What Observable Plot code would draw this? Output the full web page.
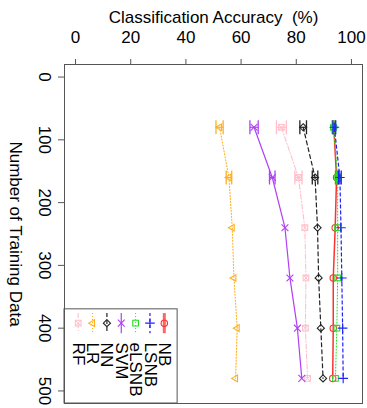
<!DOCTYPE html>
<html><head><meta charset="utf-8">
<script src="https://cdn.jsdelivr.net/npm/d3@7"></script>
<script src="https://cdn.jsdelivr.net/npm/@observablehq/plot@0.6"></script>
<style>body{margin:0;background:#fff}</style>
</head><body><div id="chart"></div>
<script>
// ---- data ----
const trainSizes = [80, 160, 240, 320, 400, 480];
const accNB    = [93.6, 94.6, 94.1, 93.4, 93.4, 93.2];
const accLSNB  = [93.8, 95.8, 96.2, 96.5, 96.8, 97.0];
const accELSNB = [93.5, 95.0, 95.0, 95.0, 94.7, 94.2];
const accSVM   = [64.7, 71.3, 75.9, 77.7, 80.4, 82.0];
const accNN    = [82.5, 86.8, 87.7, 88.1, 88.9, 89.7];
const accLR    = [52.2, 55.6, 56.8, 57.4, 58.6, 58.0];
const accRF    = [74.6, 80.8, 83.1, 83.5, 83.3, 84.1];
const errNB    = [0.4, 0.4, 0, 0, 0, 0];
const errLSNB  = [0.5, 0.5, 0, 0, 0, 0];
const errELSNB = [0.5, 0.5, 0, 0, 0, 0];
const errSVM   = [1.5, 1.0, 0, 0, 0, 0];
const errNN    = [1.2, 1.0, 0, 0, 0, 0];
const errLR    = [1.3, 1.0, 0, 0, 0, 0];
const errRF    = [1.8, 1.3, 0, 0, 0, 0];
const xTicks = [0, 20, 40, 60, 80, 100];
const yTicks = [0, 100, 200, 300, 400, 500];
const legendNames = ["RF", "LR", "NN", "SVM", "eLSNB", "LSNB", "NB"];
const xTitle = "Classification Accuracy\u00a0 (%)";
const yTitle = "Number of Training Data";

const seriesData = {
  RF: [accRF, errRF], LR: [accLR, errLR], NN: [accNN, errNN], SVM: [accSVM, errSVM],
  NB: [accNB, errNB], eLSNB: [accELSNB, errELSNB], LSNB: [accLSNB, errLSNB]
};
const drawOrder = ["RF", "LR", "NN", "SVM", "NB", "eLSNB", "LSNB"];

// ---- styles ----
const style = {
  NB:    {color: "#ff3030", symbol: "circle",  dash: null,      width: 1.5, legendWidth: 3, legendOpacity: 0.75},
  LSNB:  {color: "#2020ff", symbol: "plus",    dash: "3,3",     width: 1.2},
  eLSNB: {color: "#20e020", symbol: "square",  dash: "1,2",     width: 1},
  SVM:   {color: "#b040f5", symbol: "times",   dash: null,      width: 1.2},
  NN:    {color: "#222222", symbol: "diamond2",dash: "4,3",     width: 1.2},
  LR:    {color: "#ffb020", symbol: "triangle2", rotate: -90, dash: "1,2", width: 1.1},
  RF:    {color: "#ffc0cb", symbol: "square",  extra: "times",  dash: "5,2,1,2", width: 1.1}
};
const capSymbol = {draw(ctx, size) { const h = Math.sqrt(size / Math.PI); ctx.moveTo(0, -h); ctx.lineTo(0, h); }};
const FS = 17;
const R = 3.2;

const marks = [];
// legend box
marks.push(Plot.rect([0], {x1: () => -4, x2: () => 37, y1: () => 370, y2: () => 520, fill: "white", stroke: "#555"}));

function symbolMarks(data, st, xAcc, yAcc, r) {
  const out = [Plot.dot(data, {x: xAcc, y: yAcc, symbol: st.symbol, rotate: st.rotate || 0, r, stroke: st.color, fill: "none", strokeWidth: 1.1})];
  if (st.extra) out.push(Plot.dot(data, {x: xAcc, y: yAcc, symbol: st.extra, r: r * 0.85, stroke: st.color, fill: "none", strokeWidth: 1}));
  return out;
}

for (const name of drawOrder) {
  const [acc, err] = seriesData[name];
  const st = style[name];
  const rows = trainSizes.map((n, i) => ({n, acc: acc[i], err: err[i]}));
  marks.push(Plot.line(rows, {x: "acc", y: "n", stroke: st.color, strokeWidth: st.width, strokeDasharray: st.dash}));
  const eb = rows.filter(d => d.err > 0);
  marks.push(Plot.link(eb, {x1: d => d.acc - d.err, x2: d => d.acc + d.err, y1: "n", y2: "n", stroke: st.color, strokeWidth: 1.2}));
  const caps = eb.flatMap(d => [{x: d.acc - d.err, n: d.n}, {x: d.acc + d.err, n: d.n}]);
  marks.push(Plot.dot(caps, {x: "x", y: "n", symbol: capSymbol, r: 7, stroke: st.color, strokeWidth: 1.3}));
  marks.push(...symbolMarks(rows, st, "acc", "n", R));
}

// legend entries
legendNames.forEach((name, i) => {
  const st = style[name];
  const lx = 0.97 + i * 5.2;
  marks.push(Plot.link([0], {x1: () => lx, x2: () => lx, y1: () => 376, y2: () => 408, stroke: st.color, strokeWidth: st.legendWidth || st.width, strokeOpacity: st.legendOpacity || 1, strokeDasharray: st.dash}));
  marks.push(...symbolMarks([0], st, () => lx, () => 392, R));
  marks.push(Plot.text([name], {x: () => lx, y: () => 423, rotate: 90, textAnchor: "start", lineAnchor: "middle", fontSize: FS, fill: "black"}));
});

// axes
marks.push(Plot.axisX({anchor: "top", ticks: xTicks, tickSize: 6, tickFormat: () => "", label: null, stroke: "#555"}));
marks.push(Plot.axisY({anchor: "left", ticks: yTicks, tickSize: 6, tickFormat: () => "", label: null, stroke: "#555"}));
marks.push(Plot.text(xTicks, {x: d => d, frameAnchor: "top", dy: -27, textAnchor: "middle", lineAnchor: "middle", fontSize: FS}));
marks.push(Plot.text(yTicks, {y: d => d, frameAnchor: "left", dx: -20.5, rotate: 90, textAnchor: "middle", lineAnchor: "middle", fontSize: FS}));
marks.push(Plot.text([xTitle], {frameAnchor: "top", dy: -47, textAnchor: "middle", lineAnchor: "middle", fontSize: FS}));
marks.push(Plot.text([yTitle], {frameAnchor: "left", dx: -49, rotate: 90, textAnchor: "middle", lineAnchor: "middle", fontSize: FS}));
marks.push(Plot.frame({stroke: "#555"}));

const chart = Plot.plot({
  width: 367, height: 408,
  marginLeft: 64, marginRight: 5, marginTop: 64, marginBottom: 5,
  x: {domain: [-4, 104]},
  y: {domain: [-20, 520], reverse: true},
  style: {fontFamily: "'Liberation Sans', Arial, sans-serif", background: "white", color: "black"},
  marks
});
document.getElementById("chart").appendChild(chart);
</script>
</body></html>
